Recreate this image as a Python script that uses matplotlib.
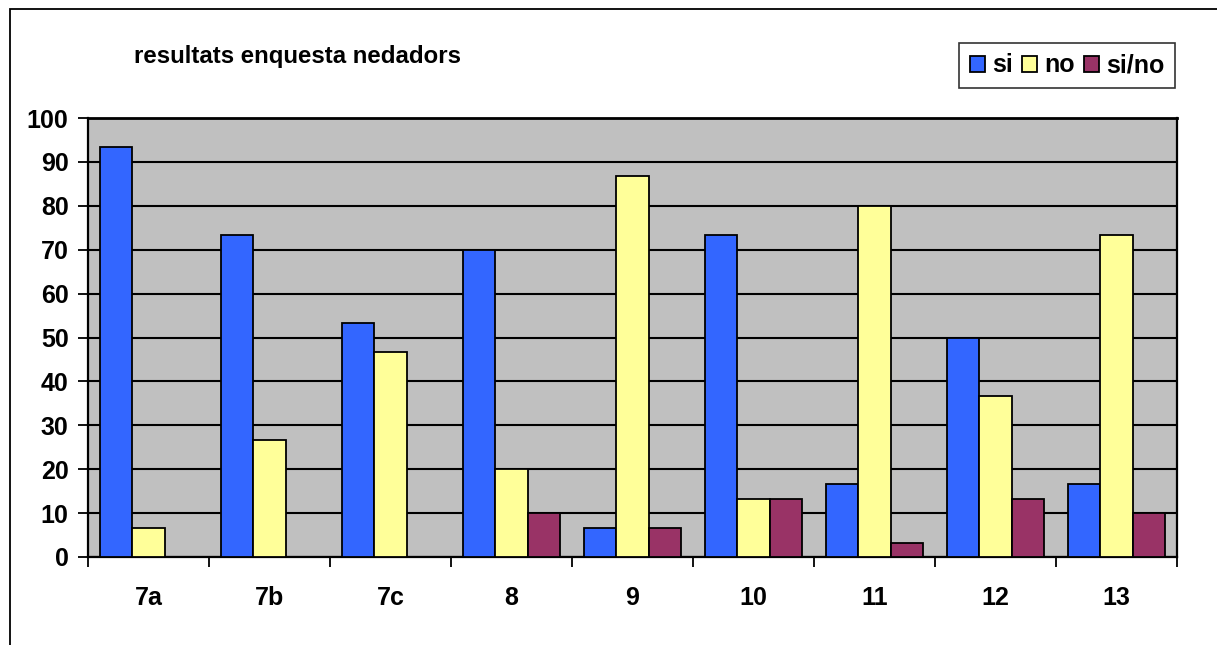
import matplotlib.pyplot as plt
import numpy as np
from matplotlib.patches import Rectangle

# survey answers, percent of swimmers
categories = ['7a', '7b', '7c', '8', '9', '10', '11', '12', '13']
si = [93.3, 73.3, 53.3, 70.0, 6.7, 73.3, 16.7, 50.0, 16.7]
no = [6.7, 26.7, 46.7, 20.0, 86.7, 13.3, 80.0, 36.7, 73.3]
si_no = [0, 0, 0, 10.0, 6.7, 13.3, 3.3, 13.3, 10.0]
yticks = list(range(0, 101, 10))

plt.rcParams['font.family'] = ['Liberation Sans', 'DejaVu Sans']
plt.rcParams['font.weight'] = 'bold'

fig = plt.figure(figsize=(12.17, 6.45), dpi=100)
ax = fig.add_axes([88 / 1217, 88 / 645, 1089 / 1217, 439 / 645])
ax.set_facecolor('#C0C0C0')

x = np.arange(len(categories))
w = 0.265
series = [(si, 'si', '#3366FF'), (no, 'no', '#FFFF99'), (si_no, 'si/no', '#993366')]
for k, (vals, name, col) in enumerate(series):
    ax.bar(x + (k - 1) * w, vals, w, color=col, edgecolor='black', linewidth=1.3,
           label=name, zorder=3)

ax.set_xlim(-0.5, len(categories) - 0.5)
ax.set_ylim(0, 100)
ax.set_yticks(yticks)
ax.set_yticklabels([str(t) for t in yticks], fontsize=18, fontweight='bold')
ax.set_xticks(x)
ax.set_xticklabels(categories, fontsize=18, fontweight='bold')
ax.set_xticks(np.arange(-0.5, len(categories)), minor=True)
ax.tick_params(axis='x', which='major', length=0, pad=21)
ax.tick_params(axis='x', which='minor', length=7, width=1.3, direction='out')
ax.tick_params(axis='y', length=7, width=1.3, direction='out', pad=7)

ax.set_axisbelow(True)
ax.yaxis.grid(True, color='black', linewidth=1.5)
for s in ax.spines.values():
    s.set_color('black')
    s.set_linewidth(1.6)
ax.spines['top'].set_linewidth(2)

fig.text(134 / 1217, 1 - 57 / 645, 'resultats enquesta nedadors', fontsize=17.3,
         fontweight='bold', va='center', ha='left')

leg = fig.legend(loc='upper right', bbox_to_anchor=(1175 / 1217, 1 - 43 / 645),
                 ncol=3, fontsize=18, frameon=True, fancybox=False,
                 handlelength=0.6, handleheight=0.6, handletextpad=0.3,
                 columnspacing=0.35, borderpad=0.42, borderaxespad=0)
leg.get_frame().set_edgecolor('black')
leg.get_frame().set_linewidth(1.2)
for t in leg.get_texts():
    t.set_fontweight('bold')

# outer chart border (only left and top edges fall inside the picture)
fig.add_artist(Rectangle((10 / 1217, -0.1), 2, 1.1 - 9 / 645, transform=fig.transFigure,
                         fill=False, edgecolor='black', linewidth=1.3))

fig.savefig('out.png', dpi=100)
